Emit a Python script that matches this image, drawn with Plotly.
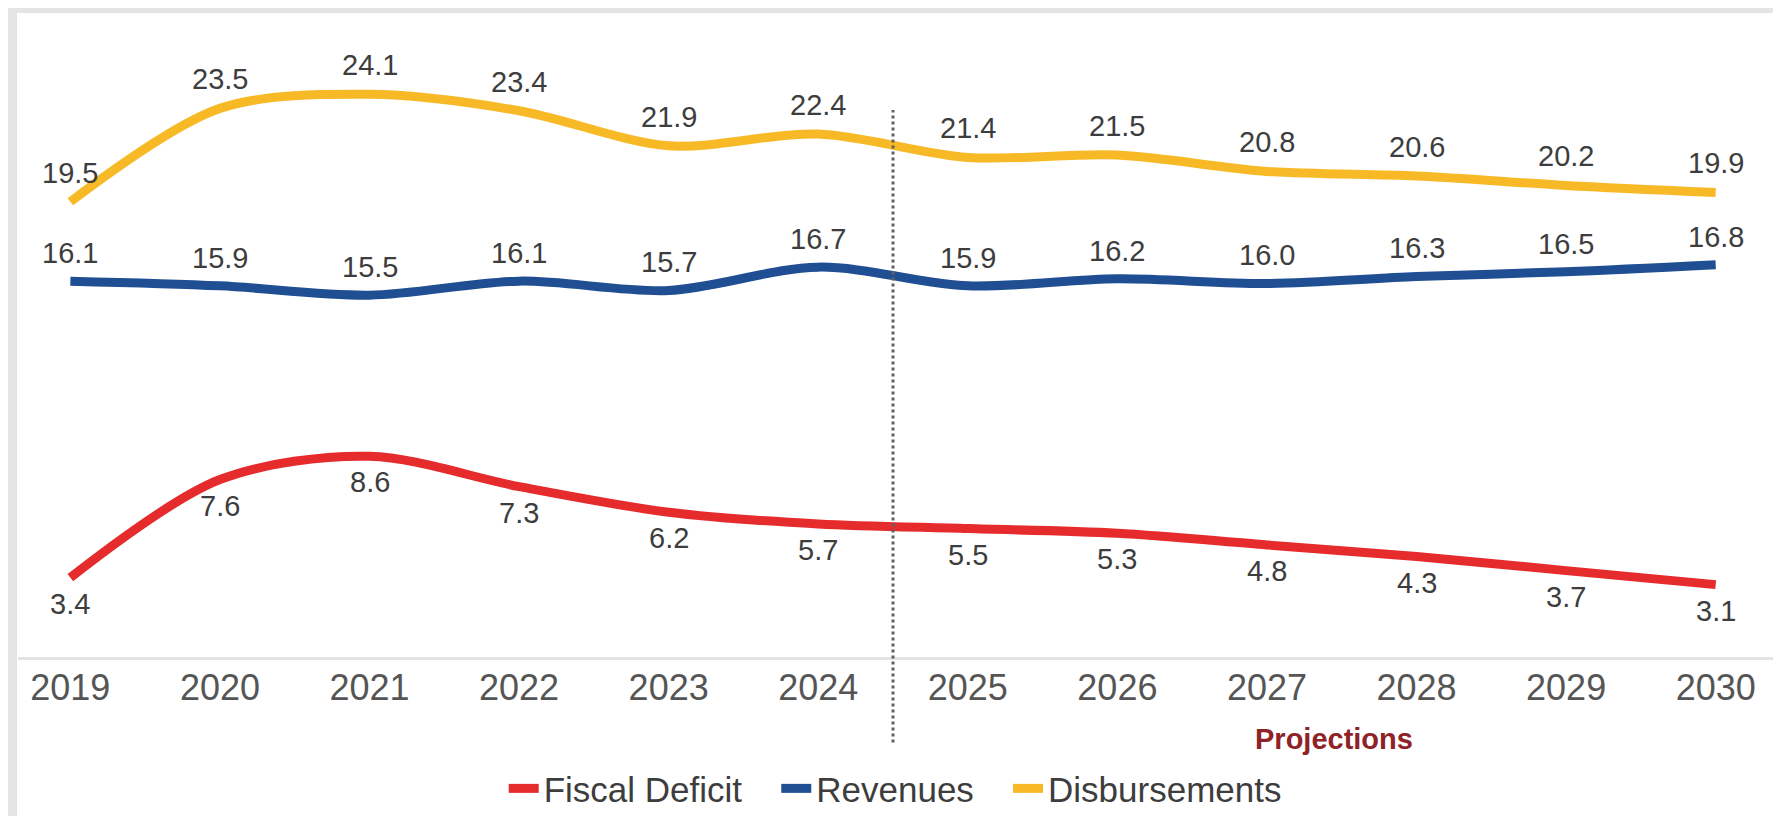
import plotly.graph_objects as go

# ---- data ----
years = ["2019", "2020", "2021", "2022", "2023", "2024",
         "2025", "2026", "2027", "2028", "2029", "2030"]
fiscal_deficit = [3.4, 7.6, 8.6, 7.3, 6.2, 5.7, 5.5, 5.3, 4.8, 4.3, 3.7, 3.1]
revenues = [16.1, 15.9, 15.5, 16.1, 15.7, 16.7, 15.9, 16.2, 16.0, 16.3, 16.5, 16.8]
disbursements = [19.5, 23.5, 24.1, 23.4, 21.9, 22.4, 21.4, 21.5, 20.8, 20.6, 20.2, 19.9]
series_names = ["Fiscal Deficit", "Revenues", "Disbursements"]
projection_label = "Projections"

# ---- layout constants ----
W, H = 1781, 816
ML, MR, MT, MB = 10, 6, 7, 164
RED, BLUE, YELLOW = "#E62B2D", "#1F4E92", "#F8B927"
LABEL_COLOR = "#3d3d3d"
FONT = "Liberation Sans, Arial, sans-serif"
XRANGE = [-0.35, 11.45]
PAD = "\u00a0" * 3  # extra spacing between legend entries

fig = go.Figure()
series = [
    (series_names[0], fiscal_deficit, RED, -26, PAD),
    (series_names[1], revenues, BLUE, 28, PAD),
    (series_names[2], disbursements, YELLOW, 29, ""),
]
for name, vals, color, shift, pad in series:
    fig.add_trace(go.Scatter(
        x=years, y=vals, name=name + pad, mode="lines",
        line=dict(color=color, width=9, shape="spline", smoothing=0.9),
        hovertemplate=name + ": %{y:.1f}<extra></extra>",
    ))
    for i, yv in enumerate(vals):
        fig.add_annotation(
            x=i, y=yv, xref="x", yref="y", text=f"{yv:.1f}",
            showarrow=False, yshift=shift,
            font=dict(family=FONT, size=29, color=LABEL_COLOR),
        )

# projections divider (between 2024 and 2025)
div_frac = (5.5 - XRANGE[0]) / (XRANGE[1] - XRANGE[0])
fig.add_shape(type="line", xref="x domain", yref="y domain",
              x0=div_frac, x1=div_frac, y0=-0.133, y1=0.852,
              line=dict(color="#606060", width=3, dash="dot"))

# white card over the grey backdrop
fig.add_shape(type="rect", xref="paper", yref="paper",
              x0=-0.0006, x1=1.1, y0=-1.0, y1=1.0 + 2 / 645,
              fillcolor="white", line=dict(width=0), layer="below")

fig.add_annotation(x=8.45, y=-0.128, xref="x", yref="paper",
                   text=f"<b>{projection_label}</b>", showarrow=False,
                   font=dict(family=FONT, size=29, color="#8E2227"),
                   xanchor="center", yanchor="middle")

fig.update_layout(
    width=W, height=H,
    margin=dict(l=ML, r=MR, t=MT, b=MB),
    paper_bgcolor="#e4e4e4",
    plot_bgcolor="white",
    showlegend=True,
    legend=dict(orientation="h", x=0.497, xanchor="center",
                y=-0.205, yanchor="middle",
                font=dict(family=FONT, size=35, color=LABEL_COLOR),
                bgcolor="rgba(0,0,0,0)", itemwidth=30, tracegroupgap=0),
    xaxis=dict(type="category", range=XRANGE, showgrid=False,
               showline=True, linecolor="#e3e3e3", linewidth=3,
               ticks="", tickfont=dict(family=FONT, size=36, color="#555555"),
               ticklabelstandoff=-3, zeroline=False, fixedrange=True),
    yaxis=dict(range=[0, 27.5], visible=False, showgrid=False,
               zeroline=False, fixedrange=True),
)

fig.write_html("out.html")
